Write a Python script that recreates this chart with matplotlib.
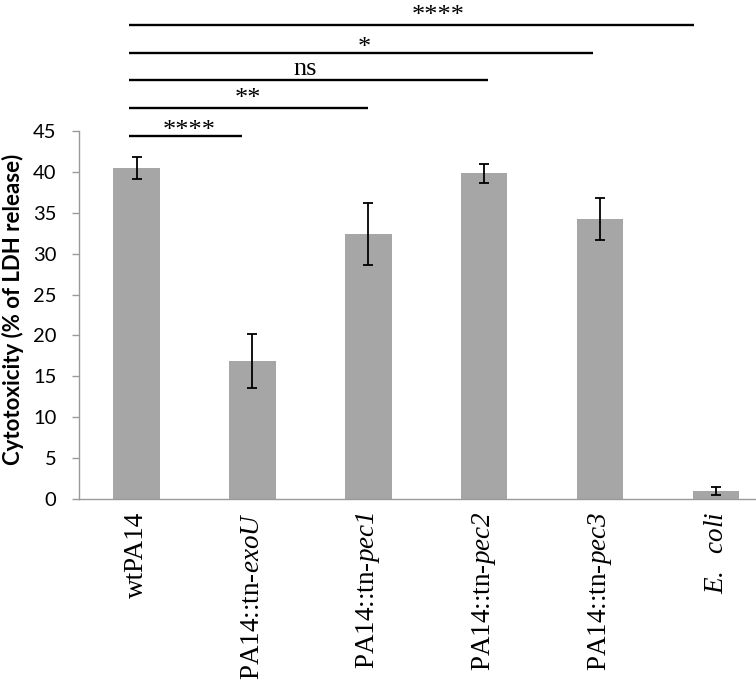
import numpy as np
import matplotlib
matplotlib.use("Agg")
import matplotlib.pyplot as plt

# strains and cytotoxicity (% LDH release)
strains = ["wtPA14", r"PA14::tn-$\mathit{exoU}$", r"PA14::tn-$\mathit{pec1}$",
           r"PA14::tn-$\mathit{pec2}$", r"PA14::tn-$\mathit{pec3}$", r"$\mathit{E.\ \ coli}$"]
cytotox = [40.4, 16.9, 32.4, 39.8, 34.2, 1.0]
cytotox_err = [1.35, 3.3, 3.75, 1.15, 2.6, 0.45]

# significance vs wtPA14
compare_to = [1, 2, 3, 4, 5]
sig_labels = ["****", "**", "ns", "*", "****"]

# digits inside math go to the 'rm' font, so make that italic too
plt.rcParams["mathtext.fontset"] = "custom"
plt.rcParams["mathtext.rm"] = "Liberation Serif:italic"
plt.rcParams["mathtext.it"] = "Liberation Serif:italic"

fig = plt.figure(figsize=(7.56, 6.86), dpi=100)
# axes runs a bit past the right edge like the cropped original
ax = fig.add_axes([78.6 / 756, (686 - 499.3) / 686, 695.4 / 756, 368.6 / 686])

x = np.arange(len(strains))
ax.bar(x, cytotox, width=0.4, color="#A6A6A6", yerr=cytotox_err, capsize=3.6,
       error_kw=dict(elinewidth=1.3, capthick=1.3, ecolor="black"))

ax.set_xlim(-0.5, len(strains) - 0.5)
ax.set_ylim(0, 45)
ax.set_yticks(np.arange(0, 46, 5))
for s in ["top", "right"]:
    ax.spines[s].set_visible(False)
for s in ["left", "bottom"]:
    ax.spines[s].set_color("#9A9A9A")
    ax.spines[s].set_linewidth(1.0)

ax.tick_params(axis="y", direction="out", length=5, width=1.0, color="#9A9A9A",
               pad=11, labelsize=14.5)
for t in ax.get_yticklabels():
    t.set_fontfamily("Lato")
ax.set_xticks(x)
ax.set_xticklabels(strains, rotation=90, fontfamily="Liberation Serif", fontsize=19.5)
ax.tick_params(axis="x", length=0, pad=9)

fig.text(13 / 756, 1 - 309 / 686, "Cytotoxicity (% of LDH release)", rotation=90,
         ha="center", va="center", fontfamily="Lato", fontweight="bold", fontsize=16)

# significance lines
right_ends = [0.912, 1.998, 3.033, 3.938, 4.813]
text_x = [0.455, 0.958, 1.451, 1.969, 2.607]
for k, (j, lab) in enumerate(zip(compare_to, sig_labels)):
    y = 44.4 + 3.37 * k
    ax.plot([-0.063, right_ends[k]], [y, y], color="black", lw=1.7,
            clip_on=False, solid_capstyle="butt")
    dy = 0.65 if lab == "ns" else (0.4 if k in (1, 4) else -0.2)
    ax.text(text_x[k], y + dy, lab, ha="center", va="baseline",
            fontfamily="Liberation Serif", fontsize=19, clip_on=False)

fig.savefig("out.png", dpi=100)
